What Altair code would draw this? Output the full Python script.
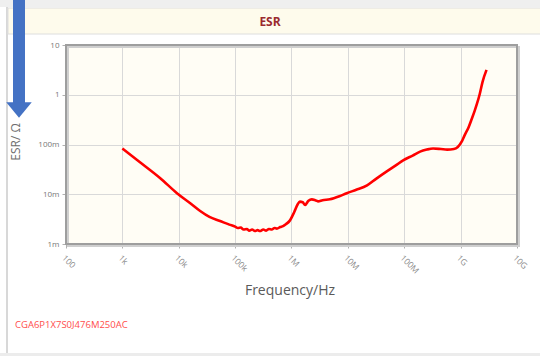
import math
import altair as alt
import pandas as pd

# Measured ESR of the capacitor across frequency
freq_hz = [
    1000, 2000, 4700, 9300, 16000, 24000, 35000, 54000, 79000, 100000,
    112000, 126000, 141000, 162000, 178000, 200000, 224000, 251000, 275000, 316000,
    355000, 398000, 447000, 501000, 550000, 631000, 708000, 794000, 933000, 1.12e6,
    1.29e6, 1.41e6, 1.58e6, 1.74e6, 2.0e6, 2.29e6, 2.63e6, 2.95e6, 3.55e6, 4.79e6,
    7.08e6, 9.55e6, 1.41e7, 2.19e7, 3.16e7, 4.9e7, 7.08e7, 9.55e7, 1.41e8, 1.91e8,
    2.51e8, 3.24e8, 4.47e8, 5.75e8, 7.59e8, 8.91e8, 1.05e9, 1.17e9, 1.38e9, 1.58e9,
    1.78e9, 1.95e9, 2.19e9, 2.45e9, 2.88e9,
]
esr_ohm = [
    0.083, 0.045, 0.021, 0.0105, 0.0066, 0.0046, 0.0035, 0.0029, 0.00245, 0.00224,
    0.00209, 0.00214, 0.00195, 0.0020, 0.00186, 0.00195, 0.00182, 0.0019, 0.00182, 0.00195,
    0.00186, 0.0020, 0.00195, 0.00209, 0.00204, 0.00219, 0.00229, 0.0025, 0.00295, 0.0044,
    0.0063, 0.0071, 0.0069, 0.0061, 0.0074, 0.0079, 0.0076, 0.0072, 0.0076, 0.0079,
    0.0091, 0.0105, 0.0123, 0.0151, 0.0204, 0.0288, 0.038, 0.048, 0.060, 0.072,
    0.079, 0.083, 0.081, 0.079, 0.081, 0.089, 0.115, 0.151, 0.22, 0.33,
    0.48, 0.66, 1.05, 1.82, 3.16,
]

x_ticks = [1e2, 1e3, 1e4, 1e5, 1e6, 1e7, 1e8, 1e9, 1e10]
x_tick_labels = ["100", "1k", "10k", "100k", "1M", "10M", "100M", "1G", "10G"]
y_ticks = [1e-3, 1e-2, 1e-1, 1, 10]
y_tick_labels = ["1m", "10m", "100m", "1", "10"]

part_number = "CGA6P1X7S0J476M250AC"
chart_title = "ESR"
x_title = "Frequency/Hz"
y_title = "ESR/ Ω"


def label_expr(values, labels):
    """Nested ternary mapping each tick value to its SI-style label."""
    expr = "'" + labels[-1] + "'"
    for i in range(len(values) - 2, -1, -1):
        cut = math.sqrt(values[i] * values[i + 1])
        expr = f"datum.value < {cut:g} ? '{labels[i]}' : ({expr})"
    return expr


W, H = 451, 199          # plot area
LEFT, TOP = 66, 45       # plot origin inside the 540x356 canvas
FONT = "Open Sans"

df = pd.DataFrame({"f": freq_hz, "esr": esr_ohm})
one = pd.DataFrame({"k": [0]})

x_scale = alt.Scale(type="log", domain=[1e2, 1e10], nice=False)
y_scale = alt.Scale(type="log", domain=[1e-3, 10], nice=False)

curve = alt.Chart(df).mark_line(
    color="#ff0000", strokeWidth=2.6, clip=True, interpolate="monotone"
).encode(
    x=alt.X("f:Q", scale=x_scale, axis=alt.Axis(
        values=x_ticks, labelExpr=label_expr(x_ticks, x_tick_labels),
        labelAngle=45, labelAlign="left", labelBaseline="top",
        labelFontSize=8.5, labelColor="#8a8a8a", labelFont=FONT, labelPadding=5,
        tickColor="#b0b0b0", tickSize=4, grid=True, gridColor="#d9d9d9",
        domain=False, title=None)),
    y=alt.Y("esr:Q", scale=y_scale, axis=alt.Axis(
        values=y_ticks, labelExpr=label_expr(y_ticks, y_tick_labels),
        labelFontSize=8, labelColor="#777777", labelFont=FONT, labelPadding=3,
        tickColor="#b0b0b0", tickSize=4, grid=True, gridColor="#d9d9d9",
        domain=False, title=None)),
)


def box(x0, x1, y0, y1, **kw):
    """Rectangle in canvas pixel coordinates."""
    return alt.Chart(one).mark_rect(**kw).encode(
        x=alt.value(x0 - LEFT), x2=alt.value(x1 - LEFT),
        y=alt.value(y0 - TOP), y2=alt.value(y1 - TOP))


def label(text, x, y, **kw):
    return alt.Chart(one).mark_text(text=text, font=FONT, **kw).encode(
        x=alt.value(x - LEFT), y=alt.value(y - TOP))


# page chrome: grey top strip, panel border, header band
top_strip = box(0, 540, 0, 7, fill="#efefef")
bottom_strip = box(0, 540, 353, 356, fill="#ececec")
panel_left = box(6, 8, 7, 353, fill="#d8d8d8")
header = box(8, 541, 8, 34, fill="#fefbec", stroke="#dedede", strokeWidth=1)
title = label(chart_title, 270, 22, fontSize=12, fontWeight="bold", color="#9b2a2f")

# shadowed frame of the plot area
shadow = box(LEFT + 2, LEFT + W + 2, TOP + 2, TOP + H + 2,
             filled=False, stroke="#cfcfcf", strokeWidth=2)
frame = box(LEFT, LEFT + W, TOP, TOP + H, filled=False, stroke="#9e9e9e", strokeWidth=2)

# blue downward arrow on the left margin
shaft = box(13, 25, 0, 103, fill="#4472c4")
head = alt.Chart(one).mark_point(
    shape="M -1 -0.6 L 1 -0.6 L 0 0.6 Z", filled=True, fill="#4472c4",
    opacity=1, size=650, strokeWidth=0).encode(
    x=alt.value(19 - LEFT), y=alt.value(110 - TOP))

y_label = label(y_title, 16, 142, angle=270, fontSize=12, color="#6e6e6e")
x_label = label(x_title, 290, 291, fontSize=14, color="#5a5a5a")
part = label(part_number, 15, 325, align="left", fontSize=9.5, color="#ff4d4d")

chart = alt.layer(
    top_strip, bottom_strip, panel_left, header, title, shadow,
    curve, frame, shaft, head, y_label, x_label, part,
).properties(
    width=W, height=H,
    padding={"left": LEFT, "top": TOP, "right": 540 - LEFT - W, "bottom": 356 - TOP - H},
    autosize=alt.AutoSizeParams(type="none"),
    background="#ffffff",
).configure_view(fill="#fffdf5", stroke=None)

chart.save("out.html", embed_options={"renderer": "svg", "actions": False})
